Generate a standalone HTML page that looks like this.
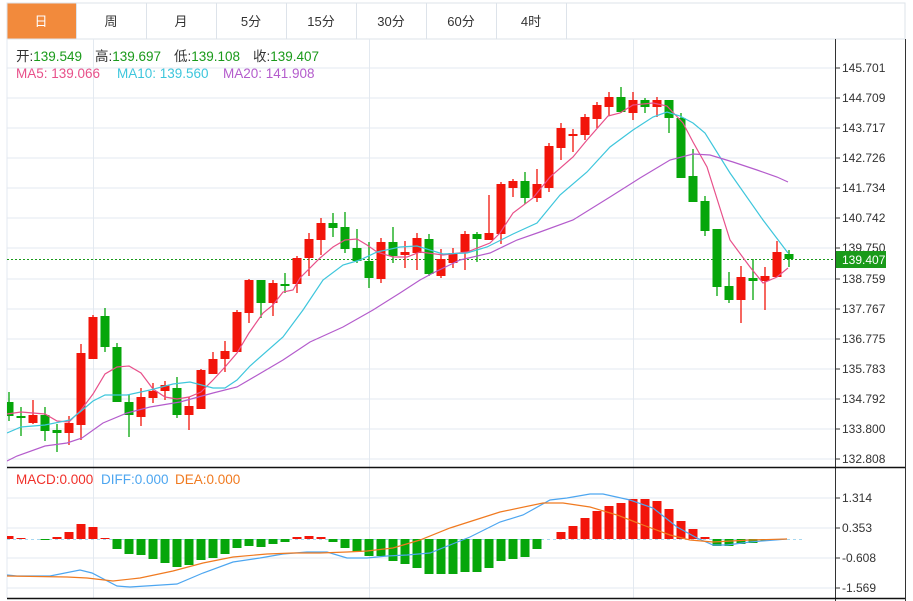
<!DOCTYPE html>
<html><head><meta charset="utf-8"><style>
body{margin:0;background:#fff;width:913px;height:601px;overflow:hidden;font-family:"Liberation Sans","Noto Sans CJK SC",sans-serif}
svg{position:absolute;left:0;top:0}
</style></head><body>
<svg width="913" height="601" xmlns="http://www.w3.org/2000/svg" font-family="Liberation Sans, Noto Sans CJK SC, sans-serif">
<!-- tabs -->
<rect x="7" y="3" width="898" height="36" fill="#fff" stroke="#dde3ea"/>
<rect x="7.5" y="3.5" width="69" height="35" fill="#f28a3c"/>
<g stroke="#dde3ea"><path d="M76.5 3V39M146.5 3V39M216.5 3V39M286.5 3V39M356.5 3V39M426.5 3V39M496.5 3V39M566.5 3V39"/></g>
<g font-size="13" text-anchor="middle" fill="#333">
<text x="41" y="26" fill="#fff">日</text><text x="111" y="26">周</text><text x="181" y="26">月</text><text x="251" y="26">5分</text><text x="321" y="26">15分</text><text x="391" y="26">30分</text><text x="461" y="26">60分</text><text x="531" y="26">4时</text></g>
<!-- grid -->
<g stroke="#e3e9f0"><path d="M7 68H835M7 98H835M7 128H835M7 158H835M7 188H835M7 218H835M7 248H835M7 279H835M7 309H835M7 339H835M7 369H835M7 399H835M7 429H835M7 459H835M7 498H835M7 528H835M7 558H835M7 588H835M93.5 39V598M369.5 39V598M633.5 39V598M7 39V598"/></g>
<path d="M835.5 39V601M905.5 39V601" stroke="#333"/>
<path d="M7 467.5H905M7 598.5H905" stroke="#111" stroke-width="1.5"/>
<!-- right ticks & labels -->
<g stroke="#333"><path d="M835 68H840M835 98H840M835 128H840M835 158H840M835 188H840M835 218H840M835 248H840M835 279H840M835 309H840M835 339H840M835 369H840M835 399H840M835 429H840M835 459H840M835 498H840M835 528H840M835 558H840M835 588H840"/></g>
<g font-size="12" fill="#333">
<text x="842" y="72">145.701</text><text x="842" y="102">144.709</text><text x="842" y="132">143.717</text><text x="842" y="162">142.726</text><text x="842" y="192">141.734</text><text x="842" y="222">140.742</text><text x="842" y="252">139.750</text><text x="842" y="283">138.759</text><text x="842" y="313">137.767</text><text x="842" y="343">136.775</text><text x="842" y="373">135.783</text><text x="842" y="403">134.792</text><text x="842" y="433">133.800</text><text x="842" y="463">132.808</text>
<text x="842" y="502">1.314</text><text x="842" y="532">0.353</text><text x="842" y="562">-0.608</text><text x="842" y="592">-1.569</text></g>
<path d="M7 259.5H835" stroke="#1a9a1a" stroke-dasharray="2,2"/>
<rect x="836" y="251" width="50" height="17" fill="#1a9a1a"/>
<text x="842" y="264" font-size="12" fill="#fff">139.407</text>
<!-- header -->
<g font-size="13.5"><text x="16" y="61" fill="#333">开:<tspan fill="#1a9a1a">139.549</tspan></text>
<text x="95" y="61" fill="#333">高:<tspan fill="#1a9a1a">139.697</tspan></text>
<text x="174" y="61" fill="#333">低:<tspan fill="#1a9a1a">139.108</tspan></text>
<text x="253" y="61" fill="#333">收:<tspan fill="#1a9a1a">139.407</tspan></text>
<text x="16" y="78" fill="#e8508a">MA5: 139.066</text>
<text x="117" y="78" fill="#3ec6dc">MA10: 139.560</text>
<text x="223" y="78" fill="#b45ccc">MA20: 141.908</text>
<text x="16" y="484" fill="#f0302a">MACD:0.000</text>
<text x="101" y="484" fill="#4da6f0">DIFF:0.000</text>
<text x="175" y="484" fill="#f07a20">DEA:0.000</text></g>
<defs><clipPath id="c"><rect x="7" y="39" width="828" height="560"/></clipPath></defs>
<g clip-path="url(#c)">
<!-- wicks -->
<path stroke="#f2150a" stroke-width="1.3" d="M33 400V424M69 416V445M81 344V440M93 315V359M141 388V426M153 383V403M165 381V400M189 397V430M201 369V409M213 352V374M225 341V372M237 310V352M249 279V323M273 280V316M297 256V293M309 233V276M321 218V255M381 238V283M405 241V268M417 233V270M441 249V278M453 248V268M465 231V270M489 195V240M501 182V244M513 179V197M537 169V202M549 143V192M561 123V160M573 129V152M585 114V140M597 102V128M609 92V116M633 92V120M657 97V117M741 266V323M765 267V310M777 241V277"/>
<path stroke="#06a60a" stroke-width="1.3" d="M9 392V421M21 407V436M45 407V441M57 424V452M105 308V352M117 343V402M129 395V437M177 377V418M261 280V318M285 273V293M333 213V237M345 212V253M357 229V263M369 242V288M393 227V263M429 234V276M477 232V262M525 172V204M621 87V113M645 98V113M669 100V133M681 113V178M693 149V202M705 196V236M717 229V296M729 272V303M753 259V300M789 250V267"/>
<g fill="#f2150a">
<rect x="28.5" y="415" width="9" height="8"/><rect x="64.5" y="423" width="9" height="10"/><rect x="76.5" y="353" width="9" height="72"/><rect x="88.5" y="317" width="9" height="42"/><rect x="136.5" y="397" width="9" height="20"/><rect x="148.5" y="391" width="9" height="7"/><rect x="160.5" y="385" width="9" height="6"/><rect x="184.5" y="406" width="9" height="9"/><rect x="196.5" y="370" width="9" height="39"/><rect x="208.5" y="359" width="9" height="15"/><rect x="220.5" y="351" width="9" height="8"/><rect x="232.5" y="312" width="9" height="40"/><rect x="244.5" y="280" width="9" height="33"/><rect x="268.5" y="283" width="9" height="20"/><rect x="292.5" y="258" width="9" height="26"/><rect x="304.5" y="239" width="9" height="19"/><rect x="316.5" y="223" width="9" height="17"/><rect x="376.5" y="242" width="9" height="37"/><rect x="400.5" y="252" width="9" height="3"/><rect x="412.5" y="238" width="9" height="15"/><rect x="436.5" y="259" width="9" height="17"/><rect x="448.5" y="253" width="9" height="10"/><rect x="460.5" y="234" width="9" height="18"/><rect x="484.5" y="233" width="9" height="7"/><rect x="496.5" y="184" width="9" height="50"/><rect x="508.5" y="181" width="9" height="7"/><rect x="532.5" y="184" width="9" height="14"/><rect x="544.5" y="146" width="9" height="42"/><rect x="556.5" y="128" width="9" height="20"/><rect x="568.5" y="134" width="9" height="2"/><rect x="580.5" y="117" width="9" height="18"/><rect x="592.5" y="105" width="9" height="14"/><rect x="604.5" y="97" width="9" height="10"/><rect x="628.5" y="100" width="9" height="13"/><rect x="652.5" y="100" width="9" height="7"/><rect x="736.5" y="277" width="9" height="23"/><rect x="760.5" y="276" width="9" height="5"/><rect x="772.5" y="252" width="9" height="25"/>
</g>
<g fill="#06a60a">
<rect x="4.5" y="402" width="9" height="14"/><rect x="16.5" y="416" width="9" height="2"/><rect x="40.5" y="415" width="9" height="16"/><rect x="52.5" y="430" width="9" height="3"/><rect x="100.5" y="316" width="9" height="31"/><rect x="112.5" y="347" width="9" height="55"/><rect x="124.5" y="402" width="9" height="13"/><rect x="172.5" y="388" width="9" height="27"/><rect x="256.5" y="280" width="9" height="23"/><rect x="280.5" y="284" width="9" height="2"/><rect x="328.5" y="223" width="9" height="5"/><rect x="340.5" y="227" width="9" height="22"/><rect x="352.5" y="248" width="9" height="13"/><rect x="364.5" y="261" width="9" height="17"/><rect x="388.5" y="242" width="9" height="14"/><rect x="424.5" y="239" width="9" height="35"/><rect x="472.5" y="234" width="9" height="5"/><rect x="520.5" y="181" width="9" height="17"/><rect x="616.5" y="97" width="9" height="15"/><rect x="640.5" y="100" width="9" height="7"/><rect x="664.5" y="100" width="9" height="18"/><rect x="676.5" y="118" width="9" height="60"/><rect x="688.5" y="176" width="9" height="26"/><rect x="700.5" y="201" width="9" height="30"/><rect x="712.5" y="229" width="9" height="58"/><rect x="724.5" y="286" width="9" height="14"/><rect x="748.5" y="278" width="9" height="3"/><rect x="784.5" y="254" width="9" height="5"/>
</g>
<!-- MAs -->
<polyline fill="none" stroke="#e8508a" stroke-width="1.2" points="7,414 21,412 45,414 57,421 69,422 81,410 93,394 105,374 117,367 129,366 141,373 153,389 165,397 177,399 189,397 201,392 213,380 225,367 237,353 249,333 263,313 273,305 283,292 293,290 300,278 320,258 333,247 345,240 357,239 367,245 377,252 393,257 407,257 420,252 443,255 467,252 490,243 500,233 513,213 533,198 550,177 573,157 587,140 608,116 620,113 633,105 653,103 667,106 683,123 693,142 707,167 730,240 750,267 763,283 777,277 788,268"/>
<polyline fill="none" stroke="#3ec6dc" stroke-width="1.2" points="7,433 21,427 45,425 70,420 80,412 93,401 105,395 127,395 150,390 173,384 190,382 213,388 225,388 237,380 250,366 283,337 303,310 323,280 343,265 360,260 377,252 400,247 417,246 443,254 467,253 487,247 513,234 537,223 560,195 587,172 610,147 633,130 653,117 667,112 680,116 693,123 705,133 730,173 763,220 788,253"/>
<polyline fill="none" stroke="#b45ccc" stroke-width="1.2" points="7,461 17,456 45,446 67,443 82,438 103,423 127,413 150,407 180,402 213,393 237,387 283,360 310,342 343,327 373,310 400,293 420,280 433,273 460,260 490,253 517,240 540,232 573,220 610,197 640,178 670,160 693,154 710,155 733,162 757,170 777,177 788,182"/>
<!-- MACD -->
<path d="M7 539.5H805" stroke="#a8d8f0" stroke-dasharray="3,3"/>
<g fill="#f2150a">
<rect x="4.5" y="536" width="9" height="3"/><rect x="16.5" y="538" width="9" height="1"/><rect x="52.5" y="537" width="9" height="2"/><rect x="64.5" y="532" width="9" height="7"/><rect x="76.5" y="524" width="9" height="15"/><rect x="88.5" y="527" width="9" height="12"/><rect x="100.5" y="538" width="9" height="1"/><rect x="292.5" y="537" width="9" height="2"/><rect x="304.5" y="536" width="9" height="3"/><rect x="316.5" y="537" width="9" height="2"/>
<rect x="556.5" y="532" width="9" height="7"/><rect x="568.5" y="526" width="9" height="13"/><rect x="580.5" y="518" width="9" height="21"/><rect x="592.5" y="511" width="9" height="28"/><rect x="604.5" y="506" width="9" height="33"/><rect x="616.5" y="503" width="9" height="36"/><rect x="628.5" y="499" width="9" height="40"/><rect x="640.5" y="499" width="9" height="40"/><rect x="652.5" y="501" width="9" height="38"/><rect x="664.5" y="509" width="9" height="30"/><rect x="676.5" y="521" width="9" height="18"/><rect x="688.5" y="529" width="9" height="10"/><rect x="700.5" y="537" width="9" height="2"/></g>
<g fill="#06a60a">
<rect x="40.5" y="539" width="9" height="1"/><rect x="112.5" y="539" width="9" height="10"/><rect x="124.5" y="539" width="9" height="15"/><rect x="136.5" y="539" width="9" height="16"/><rect x="148.5" y="539" width="9" height="20"/><rect x="160.5" y="539" width="9" height="24"/><rect x="172.5" y="539" width="9" height="28"/><rect x="184.5" y="539" width="9" height="26"/><rect x="196.5" y="539" width="9" height="21"/><rect x="208.5" y="539" width="9" height="19"/><rect x="220.5" y="539" width="9" height="15"/><rect x="232.5" y="539" width="9" height="9"/><rect x="244.5" y="539" width="9" height="7"/><rect x="256.5" y="539" width="9" height="8"/><rect x="268.5" y="539" width="9" height="5"/><rect x="280.5" y="539" width="9" height="3"/><rect x="328.5" y="539" width="9" height="3"/><rect x="340.5" y="539" width="9" height="9"/><rect x="352.5" y="539" width="9" height="13"/><rect x="364.5" y="539" width="9" height="17"/><rect x="376.5" y="539" width="9" height="17"/><rect x="388.5" y="539" width="9" height="22"/><rect x="400.5" y="539" width="9" height="25"/><rect x="412.5" y="539" width="9" height="29"/><rect x="424.5" y="539" width="9" height="35"/><rect x="436.5" y="539" width="9" height="35"/><rect x="448.5" y="539" width="9" height="35"/><rect x="460.5" y="539" width="9" height="33"/><rect x="472.5" y="539" width="9" height="33"/><rect x="484.5" y="539" width="9" height="29"/><rect x="496.5" y="539" width="9" height="22"/><rect x="508.5" y="539" width="9" height="20"/><rect x="520.5" y="539" width="9" height="18"/><rect x="532.5" y="539" width="9" height="10"/><rect x="712.5" y="539" width="9" height="7"/><rect x="724.5" y="539" width="9" height="7"/><rect x="736.5" y="539" width="9" height="5"/><rect x="748.5" y="539" width="9" height="4"/><rect x="760.5" y="539" width="9" height="2"/></g>
<polyline fill="none" stroke="#4da6f0" stroke-width="1.2" points="7,575 17,576 50,576 80,570 92,573 117,586 130,587 177,584 203,573 233,562 260,558 283,554 307,552 327,552 347,558 367,558 387,556 407,555 430,553 450,545 470,537 500,522 523,515 550,500 567,498 590,494 603,494 630,500 653,508 677,527 697,538 713,545 727,545 750,542 787,539"/>
<polyline fill="none" stroke="#f07a20" stroke-width="1.2" points="7,576 67,577 87,578 113,581 140,578 173,571 203,563 233,557 267,554 293,553 320,553 347,552 367,551 393,548 420,540 450,528 500,512 543,503 563,503 590,507 617,515 643,525 670,535 690,540 713,542 750,540 787,539"/>
</g>
</svg>
</body></html>
